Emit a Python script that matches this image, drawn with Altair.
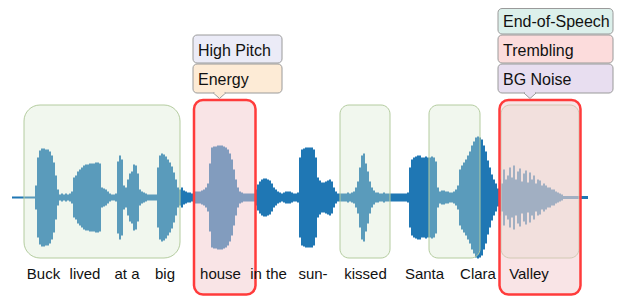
import altair as alt
import pandas as pd

# ---------------- data ----------------
# waveform envelope (half amplitude, px), one value every 2 px starting at t = 12
T0, DT = 12, 2
AMP = (
    [1, 1, 1, 1, 1, 1, 1, 1, 1, 1, 1, 1]                                  # 12-34 silence
    + [12, 40, 47, 49, 49, 48, 48, 46, 42, 35, 22, 8]                      # Buck
    + [3, 4, 3, 4, 3, 4, 6]
    + [20, 22, 26, 28, 30, 32, 33, 33, 34, 34, 34, 35, 35, 34, 10, 9, 8, 6, 4, 3, 3, 4]   # lived
    + [36, 42, 38, 12, 10, 18, 24, 26, 33, 32, 24, 8, 6, 5, 4, 3, 3, 3, 3, 3]              # at a
    + [30, 42, 44, 43, 41, 38, 35, 31, 25, 18, 10]                         # big
    + [8, 10, 7, 6, 5, 5, 4]
    + [5, 6, 6, 6, 7, 8, 10, 14]
    + [34, 50, 51, 51, 52, 52, 52, 51, 50, 48, 44, 38, 28, 18, 10, 6, 5, 4, 4, 4, 4, 4, 4]  # house
    + [8, 13, 16, 18, 19, 19, 18, 17, 14, 10, 8, 6]                        # in the
    + [5, 4, 5, 6, 6, 6, 5, 4, 4, 5]
    + [40, 48, 49, 50, 50, 50, 50, 48, 40, 20, 17, 15, 15, 16, 17, 18, 16, 10, 6, 4]       # sun-
    + [4, 4, 4, 4, 5, 4, 5, 6, 10, 16, 30, 42, 44, 34, 26, 16, 10, 7, 5, 5, 4, 4, 5, 4, 4, 4]  # kissed
    + [4, 4, 4, 4, 4, 4, 4, 4, 5]
    + [30, 38, 40, 41, 42, 42, 40, 40, 41, 40, 40, 41, 40, 36, 10, 6]      # Santa
    + [7, 7, 6, 6, 5, 5, 6, 8, 12]
    + [28, 32, 35, 38, 42, 46, 52, 56, 60, 61, 60, 58, 52, 46, 37, 30, 23, 18, 14, 9]      # Clara
    + [18, 14, 28, 18, 22, 30, 20, 32, 18, 26, 29, 16, 24, 27, 15, 25, 18, 22, 14, 18,
       17, 12, 14, 12, 10, 10, 8, 8, 6, 5, 4, 3]                           # Valley
    + [1.5] * 13                                                           # tail
)
CENTER = 197.5

words = ["Buck", "lived", "at a", "big", "house", "in the", "sun-", "kissed", "Santa", "Clara", "Valley"]
word_x = [43.5, 85, 127, 165, 220.5, 268.5, 313, 365.5, 424.5, 478, 529]
word_y = 279

# highlight regions
green_big = {"x1": [24], "x2": [180], "y1": [105], "y2": [258]}
green_small = {"x1": [340, 429, 501], "x2": [390, 480, 579], "y1": [105, 105, 105], "y2": [258, 258, 258]}
red_boxes = {"x1": [194, 499.5], "x2": [255.5, 580.5], "y1": [100, 100], "y2": [294.5, 294.5]}

# annotation tags
tag_text = ["High Pitch", "Energy", "End-of-Speech", "Trembling", "BG Noise"]
tag_x1 = [193, 193, 498, 498, 498]
tag_x2 = [282, 282, 613, 613, 613]
tag_y1 = [35, 64, 8.5, 35, 64]
tag_y2 = [63, 93, 34, 63, 93]
tag_ty = [56, 85, 27, 56, 85]
tag_fill = ["#ebebf7", "#fdebd6", "#dcf0eb", "#fcdcdc", "#e8def0"]

pointer_x = [219.5, 530]
pointer_y = [93, 93]
pointer_fill = ["#fdebd6", "#e8def0"]

# ---------------- build ----------------
wave = pd.DataFrame({"t": [T0 + DT * i for i in range(len(AMP))], "amp": AMP})
wave["lo"] = CENTER - wave["amp"]
wave["hi"] = CENTER + wave["amp"]

X = alt.Scale(domain=[8, 614], nice=False, zero=False)
Y = alt.Scale(domain=[8, 296], reverse=True, nice=False, zero=False)


def xq(f):
    return alt.X(f, type="quantitative", scale=X, axis=None)


def yq(f):
    return alt.Y(f, type="quantitative", scale=Y, axis=None)


wave_layer = alt.Chart(wave).mark_area(color="#1f77b4", interpolate="step").encode(
    x=xq("t"), y=yq("lo"), y2="hi"
)

gbig = alt.Chart(pd.DataFrame(green_big)).mark_rect(
    cornerRadius=16, fill="#d5e6cb", fillOpacity=0.33, stroke="#b4cc9f", strokeWidth=1
).encode(x=xq("x1"), x2="x2", y=yq("y1"), y2="y2")

gsmall = alt.Chart(pd.DataFrame(green_small)).mark_rect(
    cornerRadius=9, fill="#d5e6cb", fillOpacity=0.33, stroke="#b4cc9f", strokeWidth=1
).encode(x=xq("x1"), x2="x2", y=yq("y1"), y2="y2")

red = alt.Chart(pd.DataFrame(red_boxes)).mark_rect(
    cornerRadius=9, fill="#f2c6ca", fillOpacity=0.47, stroke="#ff3b3b", strokeWidth=2.5
).encode(x=xq("x1"), x2="x2", y=yq("y1"), y2="y2")

words_layer = alt.Chart(pd.DataFrame({"w": words, "x": word_x, "y": [word_y] * len(words)})).mark_text(
    align="center", baseline="alphabetic", fontSize=15, font="Liberation Sans", color="#111111"
).encode(x=xq("x"), y=yq("y"), text="w:N")

tags = pd.DataFrame({"text": tag_text, "x1": tag_x1, "x2": tag_x2, "y1": tag_y1, "y2": tag_y2,
                     "ty": tag_ty, "fill": tag_fill})
tags["tx"] = tags["x1"] + 5

tag_rect = alt.Chart(tags).mark_rect(cornerRadius=4, stroke="#9a9a9a", strokeWidth=1).encode(
    x=xq("x1"), x2="x2", y=yq("y1"), y2="y2", fill=alt.Fill("fill:N", scale=None)
)

ptr = pd.DataFrame({"x": pointer_x, "y": pointer_y, "fill": pointer_fill})
ptr["yc"] = ptr["y"] + 2.8
ptr["xa"] = ptr["x"] - 5
ptr["xb"] = ptr["x"] + 5

ptr_layer = alt.Chart(ptr).mark_point(
    shape="M-1,-0.45L1,-0.45L0,0.45Z", size=144, filled=True, stroke="#9a9a9a", strokeWidth=1, opacity=1
).encode(x=xq("x"), y=yq("yc"), fill=alt.Fill("fill:N", scale=None))

ptr_cover = alt.Chart(ptr).mark_rule(strokeWidth=2.2).encode(
    x=xq("xa"), x2="xb", y=yq("y"), color=alt.Color("fill:N", scale=None)
)

tag_text_layer = alt.Chart(tags).mark_text(
    align="left", baseline="alphabetic", fontSize=16, font="Liberation Sans", color="#111111"
).encode(x=xq("tx"), y=yq("ty"), text="text:N")

chart = alt.layer(
    wave_layer, gbig, gsmall, red, words_layer, tag_rect, ptr_layer, ptr_cover, tag_text_layer
).properties(
    width=606, height=288, padding=0, background="white",
    autosize=alt.AutoSizeParams(type="none")
).configure_view(stroke=None)

chart.save("out.html", embed_options={"renderer": "svg", "actions": False})
